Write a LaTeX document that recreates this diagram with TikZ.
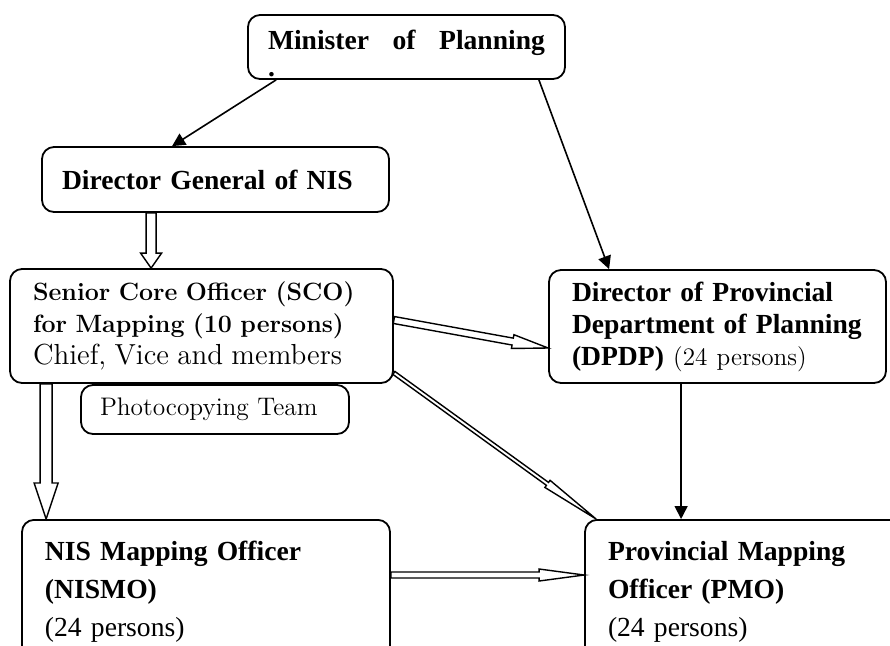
\documentclass[tikz,border=0pt]{standalone}
\usepackage{fontspec}
\newfontfamily\timesfont{Liberation Serif}
\usetikzlibrary{arrows.meta,calc,positioning}

\begin{document}
\begin{tikzpicture}[x=0.5pt,y=-0.5pt,
    box/.style={draw,line width=0.9pt,rounded corners=6pt,align=left,inner ysep=0pt},
    arr/.style={line width=0.8pt,-{Triangle[length=6.5pt,width=6.5pt]}},
    hollow/.style n args={3}{draw,line width=0.7pt,fill=white,to path={
        ($(\tikztotarget)!#3!(\tikztostart)$) coordinate (hb)
        ($(\tikztostart)!#1!90:(\tikztotarget)$) -- ($(hb)!#1!90:(\tikztotarget)$)
        -- ($(hb)!#2!90:(\tikztotarget)$) -- (\tikztotarget)
        -- ($(hb)!#2!-90:(\tikztotarget)$) -- ($(hb)!#1!-90:(\tikztotarget)$)
        -- ($(\tikztostart)!#1!-90:(\tikztotarget)$) -- cycle}}]

    % Page size
    \useasboundingbox (0,0) rectangle (890,645);
    \clip (0,0) rectangle (890,645);

    % Define fonts
    \def\tb{\timesfont\bfseries\fontsize{13.8}{16}\selectfont}
    \def\tr{\timesfont\fontsize{13.8}{19}\selectfont}

    % Draw boxes
    \node[box,text width=138.5pt,inner xsep=10pt,minimum height=32pt,
        font=\timesfont\bfseries\fontsize{13.8}{13.5}\selectfont] (min) at (406.5,47)
        {\rule{0pt}{16pt}\hbox to 138.5pt{Minister\hfill of\hfill Planning}\\.};
    \node[box,text width=153.5pt,inner xsep=10pt,minimum height=32.5pt,font=\tb] (dg) at (215.5,179.5)
        {\rule{0pt}{6pt}Director General of NIS};
    \node[box,text width=168.5pt,inner xsep=11.5pt,minimum height=57pt,
        font=\fontsize{12.5}{16}\selectfont] (sco) at (201.5,326)
        {\bfseries Senior Core Officer (SCO)\\for Mapping (10 persons)\\
         \mdseries\fontsize{14.5}{16}\selectfont Chief, Vice and members};
    \node[box,text width=115pt,inner xsep=9.5pt,minimum height=24.5pt,
        font=\fontsize{12.7}{15}\selectfont] (photo) at (215,409.5)
        {Photocopying Team};
    \node[box,text width=145.5pt,inner xsep=11.5pt,minimum height=56.5pt,font=\tb] (dpdp) at (717.5,326.5)
        {Director of Provincial\\Department of Planning\\
         (DPDP) {\rmfamily\mdseries\fontsize{12.6}{16}\selectfont(24 persons)}};
    \node[box,text width=161pt,inner xsep=11.5pt,inner ysep=10.5pt,anchor=north,font=\tr] (nismo) at (206,519)
        {\textbf{NIS Mapping Officer}\\\textbf{(NISMO)}\\(24 persons)};
    \node[box,text width=137pt,inner xsep=11.5pt,inner ysep=10.5pt,anchor=north,font=\tr] (pmo) at (745,519)
        {\textbf{Provincial Mapping}\\\textbf{Officer (PMO)}\\(24 persons)};

    % Draw simple arrows
    \draw[arr] ([xshift=14.5pt]min.south west) -- ([xshift=65.5pt]dg.north west);
    \draw[arr] ([xshift=-13.5pt]min.south east) -- ([xshift=30.5pt]dpdp.north west);
    \draw[arr] ([xshift=66.5pt]dpdp.south west) -- ([xshift=48.5pt]pmo.north west);

    % Draw hollow arrows
    \path[hollow={2.5pt}{5.25pt}{7.5pt}] ([xshift=55pt]dg.south west) to ([xshift=71pt]sco.north west);
    \path[hollow={3pt}{6pt}{18pt}] ([xshift=18.5pt]sco.south west) to ([xshift=12.5pt]nismo.north west);
    \path[hollow={1.75pt}{3.5pt}{18pt}] ([yshift=3pt]sco.east) to ([yshift=-10.75pt]dpdp.west);
    \path[hollow={0.9pt}{2.2pt}{30pt}] ([yshift=5.5pt]sco.south east) to ([xshift=6pt]pmo.north west);
    \path[hollow={1.5pt}{3pt}{22.5pt}] ([yshift=-28pt]nismo.north east) to ([yshift=-28pt]pmo.north west);
\end{tikzpicture}
\end{document}
